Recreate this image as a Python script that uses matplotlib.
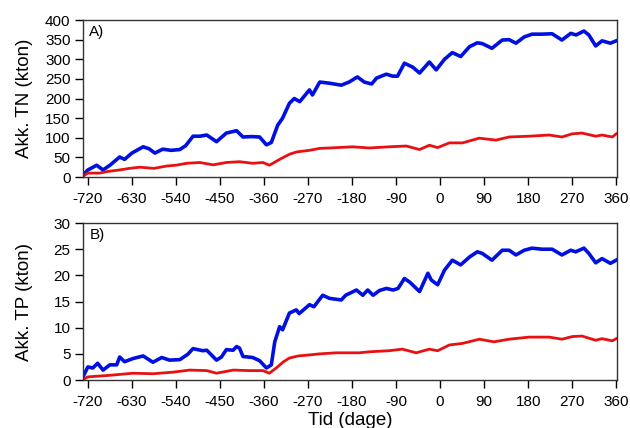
import numpy as np
import matplotlib as mpl
mpl.use('Agg')
import matplotlib.pyplot as plt

plt.rcParams['font.family'] = ['Liberation Sans', 'DejaVu Sans']
plt.rcParams['axes.unicode_minus'] = False

# accumulated TN (kton), upper series (blue) and lower series (red)
tn_blue_days = [-730, -720, -702, -689, -675, -655, -645, -630, -607, -595, -583, -567,
                -550, -532, -520, -505, -491, -477, -457, -437, -416, -403, -385, -369,
                -355, -345, -332, -322, -308, -298, -287, -267, -261, -246, -226, -202,
                -186, -169, -155, -140, -130, -110, -97, -87, -73, -56, -42, -22, -8, 9,
                25, 42, 60, 76, 86, 106, 127, 141, 155, 172, 188, 208, 229, 249, 267,
                278, 294, 304, 318, 331, 348, 360]
tn_blue = [5, 18, 30, 18, 30, 51, 45, 61, 77, 72, 61, 71,
           68, 70, 80, 104, 104, 107, 90, 112, 118, 102, 103, 102,
           82, 88, 132, 150, 188, 200, 192, 222, 209, 242, 239, 234,
           242, 255, 242, 237, 252, 262, 257, 257, 290, 280, 265, 293, 273, 300,
           317, 307, 332, 342, 340, 328, 349, 350, 341, 357, 364, 364, 365, 349, 366,
           362, 372, 362, 334, 347, 341, 347]

tn_red_days = [-730, -720, -696, -680, -655, -635, -614, -585, -559, -540, -518, -491,
               -464, -437, -410, -383, -362, -349, -328, -308, -293, -267, -246, -226,
               -179, -145, -104, -69, -42, -22, -5, 19, 46, 80, 114, 141, 182, 223,
               249, 270, 290, 318, 331, 352, 360]
tn_red = [2, 10, 10, 14, 18, 22, 25, 22, 28, 30, 35, 37,
          31, 37, 39, 35, 37, 30, 45, 58, 64, 68, 73, 74,
          77, 74, 77, 79, 70, 81, 75, 87, 87, 99, 94, 102, 104, 107,
          102, 110, 112, 104, 107, 102, 110]

# accumulated TP (kton)
tp_blue_days = [-730, -720, -710, -700, -689, -675, -661, -655, -645, -628, -607, -587,
                -569, -553, -532, -516, -505, -485, -477, -457, -447, -437, -423, -416,
                -410, -403, -383, -369, -355, -345, -338, -328, -322, -308, -294, -288,
                -267, -258, -240, -226, -202, -193, -171, -158, -148, -137, -124, -110,
                -96, -86, -73, -62, -42, -25, -18, -5, 9, 25, 42, 60, 76, 86, 106, 127,
                141, 155, 172, 188, 208, 229, 249, 267, 277, 294, 304, 318, 331, 348, 360]
tp_blue = [0.6, 2.5, 2.3, 3.2, 1.9, 2.9, 2.9, 4.4, 3.5, 4.1, 4.6, 3.4,
           4.3, 3.8, 3.9, 4.9, 6.0, 5.6, 5.7, 3.8, 4.4, 5.8, 5.7, 6.4,
           6.1, 4.5, 4.3, 3.7, 2.3, 2.9, 7.3, 10.2, 9.6, 12.8, 13.4, 12.7,
           14.4, 14.0, 16.2, 15.6, 15.3, 16.2, 17.2, 16.2, 17.2, 16.2, 17.1, 17.5,
           17.2, 17.5, 19.4, 18.7, 16.9, 20.4, 19.1, 18.2, 21.0, 22.9, 22.0, 23.5, 24.5,
           24.2, 22.9, 24.8, 24.8, 23.9, 24.8, 25.2, 25.0, 25.0, 23.9, 24.8, 24.5,
           25.2, 24.2, 22.4, 23.2, 22.3, 22.9]

tp_red_days = [-730, -720, -675, -628, -587, -546, -512, -477, -457, -423, -390, -362,
               -349, -335, -320, -308, -290, -267, -246, -212, -165, -144, -104, -77,
               -49, -22, -5, 19, 46, 80, 110, 141, 182, 223, 249, 270, 290, 318, 331,
               352, 360]
tp_red = [0.1, 0.6, 0.9, 1.3, 1.2, 1.5, 1.9, 1.8, 1.3, 1.9, 1.8, 1.8,
          1.3, 2.3, 3.5, 4.2, 4.6, 4.8, 5.0, 5.2, 5.2, 5.4, 5.6, 5.9,
          5.2, 5.9, 5.6, 6.7, 7.0, 7.8, 7.3, 7.8, 8.2, 8.2, 7.8, 8.3, 8.4, 7.6, 7.9,
          7.5, 7.9]

x_ticks = list(range(-720, 361, 90))


def style_axis(ax, ylim, ystep, ylabel, tag):
    ax.set_xlim(-730, 362)
    ax.set_ylim(ylim)
    ax.set_xticks(x_ticks)
    ax.set_yticks(np.arange(0, ylim[1] + ystep / 2, ystep))
    ax.tick_params(direction='out', length=6, width=1, labelsize=11,
                   top=False, right=False)
    ax.tick_params(axis='x', pad=5)
    ax.tick_params(axis='y', pad=3)
    for s in ax.spines.values():
        s.set_linewidth(1.0)
        s.set_color('#333333')
    ax.set_ylabel(ylabel, fontsize=13.5)
    # same label column for both panels
    ax.yaxis.set_label_coords(-0.094, 0.5)
    ax.text(0.012, 0.9, tag, transform=ax.transAxes, fontsize=11)


fig = plt.figure(figsize=(6.3, 4.28), dpi=100)
ax1 = fig.add_axes([0.1317, 0.5864, 0.848, 0.3668])
ax2 = fig.add_axes([0.1317, 0.1121, 0.848, 0.3668])

ax1.plot(tn_blue_days, tn_blue, color='#0010e0', linewidth=2.6)
ax1.plot(tn_red_days, tn_red, color='#e81010', linewidth=2.0)
style_axis(ax1, (0, 400), 50, 'Akk. TN (kton)', 'A)')

ax2.plot(tp_blue_days, tp_blue, color='#0010e0', linewidth=2.6)
ax2.plot(tp_red_days, tp_red, color='#e81010', linewidth=2.0)
style_axis(ax2, (0, 30), 5, 'Akk. TP (kton)', 'B)')
ax2.set_xlabel('Tid (dage)', fontsize=13.5, labelpad=2)

fig.savefig('out.png', dpi=100)
plt.close(fig)
